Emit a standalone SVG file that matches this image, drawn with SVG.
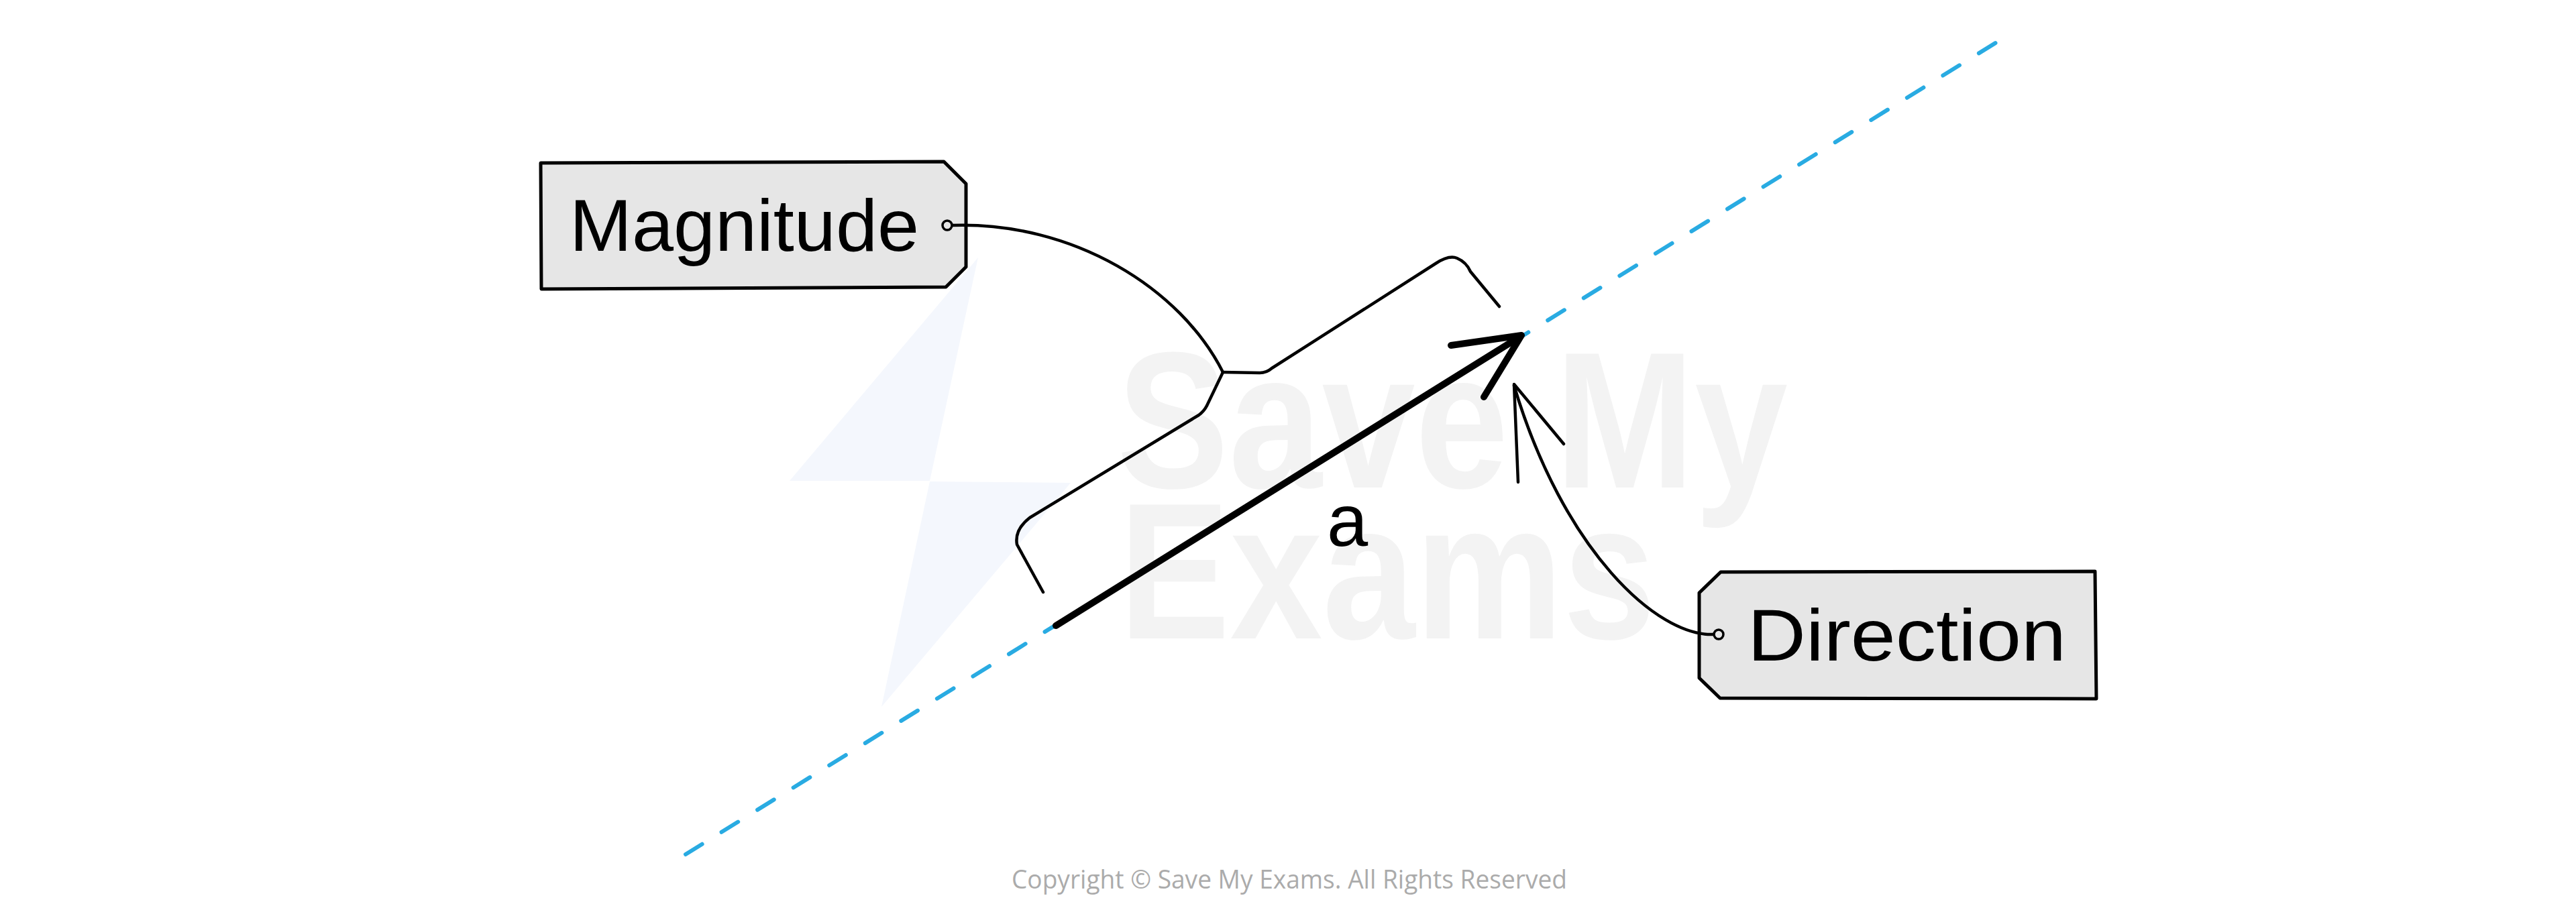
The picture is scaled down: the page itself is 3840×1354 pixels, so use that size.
<svg xmlns="http://www.w3.org/2000/svg" width="3840" height="1354" viewBox="0 0 3840 1354">
  <style>
    .tag { fill: #e6e6e6; stroke: #000; stroke-width: 5; stroke-linejoin: round; }
    .hole { fill: #e6e6e6; stroke: #000; stroke-width: 3.5; }
    .label { font-family: "Liberation Sans", Arial, sans-serif; font-size: 110px; fill: #000; }
    .thin { fill: none; stroke: #000; stroke-width: 4.5; stroke-linecap: round; stroke-linejoin: round; }
    .thick { fill: none; stroke: #000; stroke-width: 10; stroke-linecap: round; stroke-linejoin: round; }
    .dash { fill: none; stroke: #29abe2; stroke-width: 6; stroke-linecap: round; stroke-dasharray: 29 34; }
    .wm { font-family: "Liberation Sans", Arial, sans-serif; font-weight: bold; font-size: 290px; fill: #f3f3f3; }
    .copy { font-family: "Open Sans", "Liberation Sans", sans-serif; font-size: 38px; fill: #ababab; }
  </style>
  <rect width="3840" height="1354" fill="#fff"/>

  <g id="watermark">
    <polygon points="1458,384 1177,717 1386,717" fill="#f4f7fd"/>
    <polygon points="1386,718 1596,720 1314,1054" fill="#f4f7fd"/>
    <text class="wm" x="1665" y="727" textLength="1000" lengthAdjust="spacingAndGlyphs">Save My</text>
    <text class="wm" x="1668" y="952" textLength="800" lengthAdjust="spacingAndGlyphs">Exams</text>
  </g>

  <g id="direction-line">
    <line class="dash" x1="1022" y1="1274" x2="2986" y2="57"/>
  </g>

  <g id="magnitude">
    <path class="tag" d="M806,243 L1407,241 L1440,274 L1440,398 L1410,428 L807,431 Z"/>
    <text class="label" x="849" y="374" textLength="521" lengthAdjust="spacingAndGlyphs">Magnitude</text>
  </g>

  <g id="direction">
    <path class="tag" d="M2565,853 L3123,852 L3125,1042 L2564,1041 L2533,1011 L2533,884 Z"/>
    <text class="label" x="2605" y="985" textLength="475" lengthAdjust="spacingAndGlyphs">Direction</text>
  </g>

  <g id="connectors">
    <!-- brace -->
    <path class="thin" d="M1823,555 L1878,556 Q1888,556 1896,549 L2140,393 Q2160,380 2172,385 Q2186,391 2192,405 L2235,457"/>
    <path class="thin" d="M1823,555 L1799,605 Q1795,613 1787,619 L1535,772 Q1512,790 1516,812 L1555,883"/>
    <!-- Magnitude connector -->
    <path class="thin" d="M1419,336 C1600,330 1760,430 1823,555"/>
    <circle class="hole" cx="1412" cy="336" r="7"/>
    <!-- Direction connector -->
    <path class="thin" d="M2555,946 C2470,950 2330,820 2257,575"/>
    <path class="thin" d="M2263,719 L2257,573 L2331,662"/>
    <circle class="hole" cx="2562" cy="946" r="7"/>
  </g>

  <g id="vector-a">
    <line class="thick" x1="1574" y1="933" x2="2266" y2="502"/>
    <path class="thick" d="M2163,515 L2268,500 L2212,592"/>
    <text class="label" x="1978" y="814">a</text>
  </g>

  <text class="copy" x="1508" y="1325" textLength="828" lengthAdjust="spacingAndGlyphs">Copyright © Save My Exams. All Rights Reserved</text>
</svg>
